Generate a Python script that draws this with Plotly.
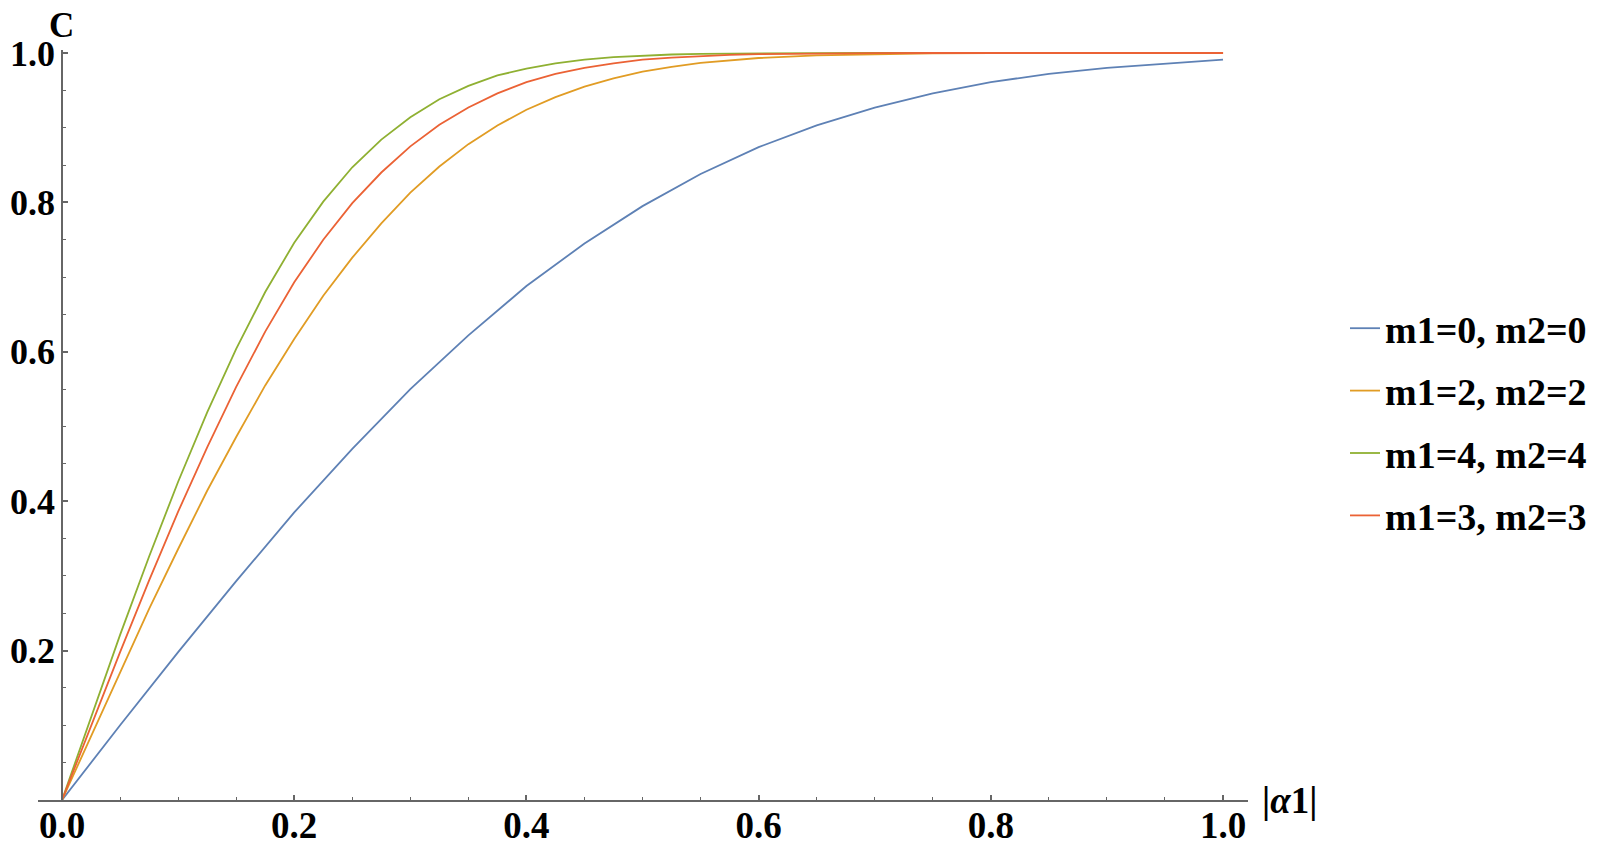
import plotly.graph_objects as go

# ---- data ----
x_fast = [0.0, 0.025, 0.05, 0.075, 0.1, 0.125, 0.15, 0.175, 0.2, 0.225, 0.25, 0.275,
          0.3, 0.325, 0.35, 0.375, 0.4, 0.425, 0.45, 0.475, 0.5, 0.525, 0.55, 0.575,
          0.6, 0.65, 0.7, 0.75, 0.8, 0.9, 1.0]

c_m2 = [0.0, 0.086, 0.172, 0.256, 0.336, 0.414, 0.486, 0.555, 0.617, 0.675, 0.726, 0.772,
        0.813, 0.848, 0.878, 0.903, 0.924, 0.941, 0.955, 0.966, 0.975, 0.9815, 0.9867, 0.9905,
        0.9933, 0.9969, 0.9986, 0.9994, 0.9998, 1.0, 1.0]

c_m3 = [0.0, 0.100, 0.198, 0.294, 0.386, 0.472, 0.553, 0.627, 0.693, 0.750, 0.799, 0.840,
        0.875, 0.904, 0.927, 0.946, 0.961, 0.972, 0.980, 0.986, 0.991, 0.9939, 0.996, 0.9975,
        0.9984, 0.9994, 0.9998, 1.0, 1.0, 1.0, 1.0]

c_m4 = [0.0, 0.112, 0.221, 0.326, 0.426, 0.519, 0.604, 0.680, 0.746, 0.801, 0.847, 0.884,
        0.914, 0.938, 0.956, 0.970, 0.979, 0.986, 0.991, 0.9945, 0.9966, 0.998, 0.9988, 0.9993,
        0.9996, 0.9999, 1.0, 1.0, 1.0, 1.0, 1.0]

x_slow = [0.0, 0.05, 0.1, 0.15, 0.2, 0.25, 0.3, 0.35, 0.4, 0.45, 0.5, 0.55, 0.6, 0.65,
          0.7, 0.75, 0.8, 0.85, 0.9, 0.95, 1.0]
c_m0 = [0.0, 0.100, 0.198, 0.293, 0.385, 0.470, 0.550, 0.622, 0.688, 0.745, 0.795, 0.838,
        0.874, 0.903, 0.927, 0.946, 0.961, 0.972, 0.980, 0.986, 0.991]

series_names = ["m1=0, m2=0", "m1=2, m2=2", "m1=4, m2=4", "m1=3, m2=3"]
series_colors = ["#5E81B5", "#E19C24", "#8FB032", "#EB6235"]

x_tickvals = [0.0, 0.2, 0.4, 0.6, 0.8, 1.0]
x_ticktext = ["0.0", "0.2", "0.4", "0.6", "0.8", "1.0"]
y_tickvals = [0.2, 0.4, 0.6, 0.8, 1.0]
y_ticktext = ["0.2", "0.4", "0.6", "0.8", "1.0"]

# ---- figure ----
# page body has an 8px default margin, so the figure is offset by 8px
OFF = 8
W, H = 1609 - OFF, 851 - OFF
ML, MR, MT, MB = 38 - OFF, 361, 50 - OFF, 51
XMIN, XMAX = -0.0207, 1.0215
YMIN, YMAX = 0.0, 1.004
AXC = "#666666"
FONT = "Liberation Serif"

fig = go.Figure()
xs = [x_slow, x_fast, x_fast, x_fast]
ys = [c_m0, c_m2, c_m4, c_m3]
for i in range(4):
    fig.add_trace(go.Scatter(
        x=xs[i], y=ys[i], mode="lines", name=series_names[i],
        legendgroup=str(i),
        line=dict(color=series_colors[i], width=1.8),
    ))

ypos = (0 - XMIN) / (XMAX - XMIN)

fig.update_layout(
    width=W, height=H,
    margin=dict(l=ML, r=MR, t=MT, b=MB, autoexpand=False),
    paper_bgcolor="white", plot_bgcolor="white",
    font=dict(family=FONT, color="black"),
    xaxis=dict(
        range=[XMIN, XMAX], domain=[0, 1], showgrid=False, zeroline=False,
        automargin=False,
        showline=True, linecolor=AXC, linewidth=1.6,
        ticks="inside", ticklen=5, tickwidth=1.6, tickcolor=AXC,
        tickvals=x_tickvals, ticktext=x_ticktext,
        tickfont=dict(family=FONT, size=37, color="black", weight="bold"),
        minor=dict(dtick=0.05, tick0=0, ticks="inside", ticklen=3, tickwidth=1.2, tickcolor=AXC),
        ticklabelstandoff=-8,
    ),
    yaxis=dict(
        range=[YMIN, YMAX], showgrid=False, zeroline=False,
        automargin=False,
        anchor="free", position=ypos,
        showline=True, linecolor=AXC, linewidth=1.6,
        ticks="inside", ticklen=5, tickwidth=1.6, tickcolor=AXC,
        tickvals=y_tickvals, ticktext=y_ticktext,
        tickfont=dict(family=FONT, size=36, color="black", weight="bold"),
        minor=dict(dtick=0.05, tick0=0, ticks="inside", ticklen=3, tickwidth=1.2, tickcolor=AXC),
        ticklabelstandoff=-1,
    ),
    legend=dict(
        x=(1345 - 38) / 1210, xanchor="left",
        y=(800 - 422) / 750, yanchor="middle",
        font=dict(family=FONT, size=38, color="black", weight="bold"),
        tracegroupgap=10, bgcolor="rgba(0,0,0,0)",
    ),
    showlegend=True,
)

fig.add_annotation(text="<b>C</b>", xref="paper", yref="paper",
                   x=(61.5 - 38) / 1210, y=(800 - 25) / 750, showarrow=False,
                   xanchor="center", yanchor="middle", height=28, borderpad=0,
                   font=dict(family=FONT, size=35, color="black"))
fig.add_annotation(text="<b>|<i>α</i>1|</b>", xref="paper", yref="paper",
                   x=(1260 - 38) / 1210, y=0, showarrow=False,
                   xanchor="left", yanchor="middle",
                   font=dict(family=FONT, size=37, color="black"))

fig.write_html("out.html", config={"displayModeBar": False})
